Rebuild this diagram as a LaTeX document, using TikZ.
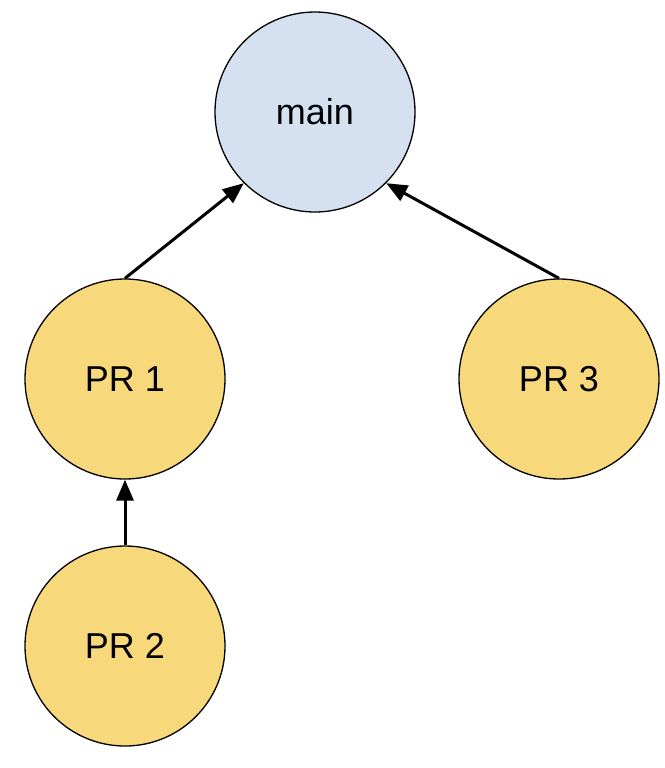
\documentclass[tikz,border=0pt]{standalone}
\usepackage{fontspec}
\setmainfont{Liberation Sans}
\usetikzlibrary{arrows.meta}
\definecolor{mainblue}{HTML}{D5E1F1}
\definecolor{pryellow}{HTML}{F7D97B}
\tikzstyle{branch} = [circle,draw=black,line width=1.3pt,minimum size=200pt,inner sep=0pt,font=\fontsize{36}{43}\selectfont]
\tikzstyle{merge} = [line width=3pt,-{Triangle[length=21pt,width=17pt]}]

\begin{document}
\begin{tikzpicture}[x=1pt,y=-1pt]
				\useasboundingbox (0,0) rectangle (664,768);
				\node (main) [branch,fill=mainblue] at (315,112) {main};
				\node (pr1) [branch,fill=pryellow] at (125,379) {PR 1};
				\node (pr3) [branch,fill=pryellow] at (559,379) {PR 3};
				\node (pr2) [branch,fill=pryellow] at (125,646) {PR 2};
				\draw [merge] (pr1.north) -- (main.south west);
				\draw [merge] (pr3.north) -- (main.south east);
				\draw [merge] (pr2.north) -- (pr1.south);
			\end{tikzpicture}
\end{document}
